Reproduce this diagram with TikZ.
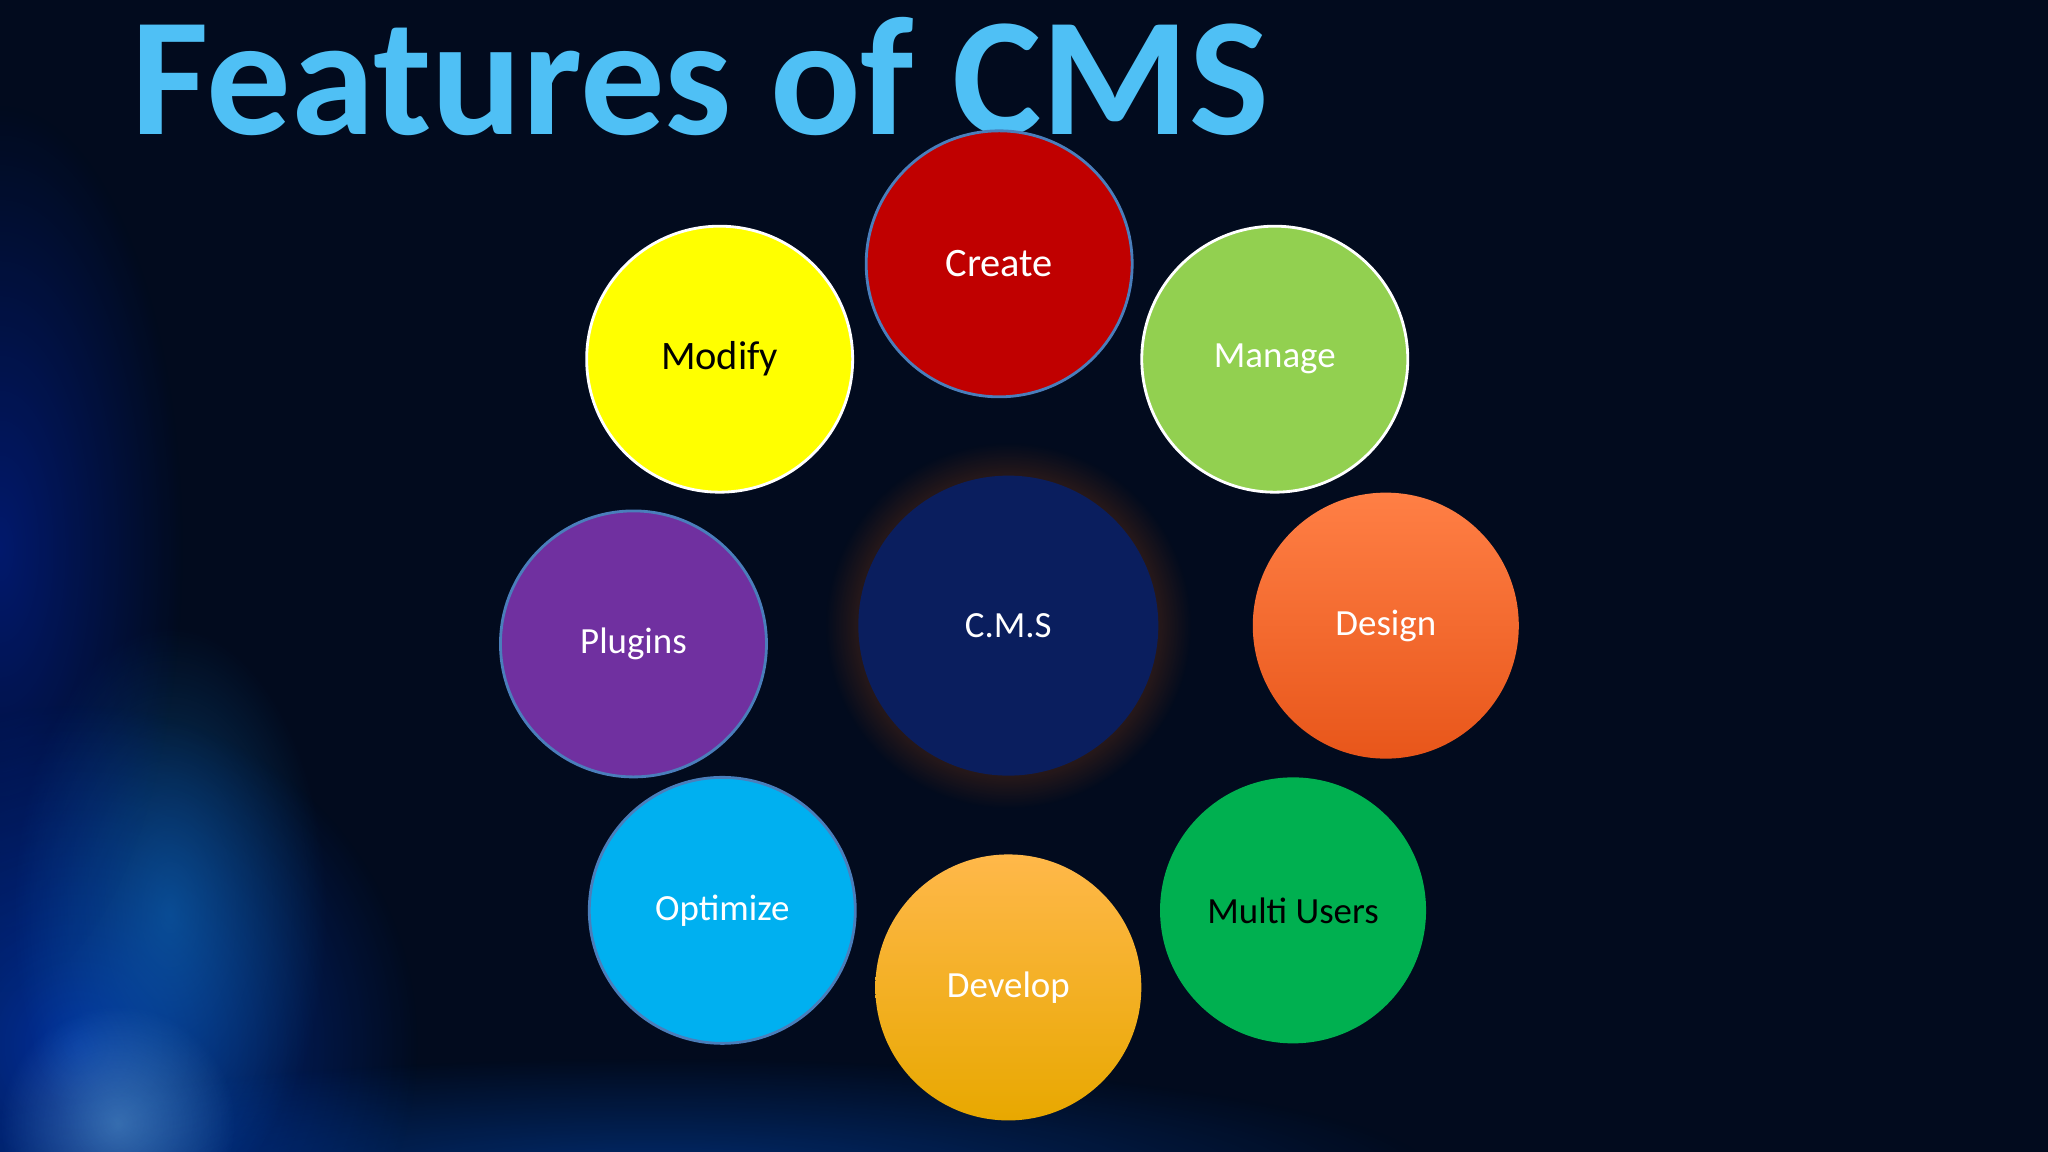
\documentclass[tikz,border=0pt]{standalone}
\usepackage{fontspec}
\setmainfont{Carlito}
\usetikzlibrary{fadings}
\definecolor{bg}{HTML}{020B1E}
\definecolor{titleblue}{HTML}{4FC0F5}
\definecolor{cred}{HTML}{C00000}
\definecolor{cyellow}{HTML}{FFFF00}
\definecolor{cmanage}{HTML}{92D050}
\definecolor{cpurple}{HTML}{7030A0}
\definecolor{cnavy}{HTML}{0A1E5E}
\definecolor{corangeT}{HTML}{FF7F45}
\definecolor{corangeB}{HTML}{E8561A}
\definecolor{ccyan}{HTML}{00B0F0}
\definecolor{cgoldT}{HTML}{FFB84A}
\definecolor{cgoldB}{HTML}{E8A800}
\definecolor{cgreen}{HTML}{00B050}
\definecolor{edgeblue}{HTML}{4A7EBB}
\tikzset{
  feat/.style={circle, minimum size=2.66cm, inner sep=0pt, font=\fontsize{11.5}{12}\selectfont, text=white, line width=0.8pt},
}
\tikzfading[name=fadeout, inner color=transparent!0, outer color=transparent!100]
\begin{document}
\begin{tikzpicture}[x=0.013061cm,y=-0.013061cm]
\useasboundingbox (0,0) rectangle (1568,882);
\fill[bg] (0,0) rectangle (1568,882);
\begin{scope}
\clip (0,0) rectangle (1568,882);
\fill[blue!70!cyan, opacity=0.55, path fading=fadeout] (60,800) ellipse (260 and 260);
\fill[cyan!60!blue, opacity=0.5, path fading=fadeout] (130,700) ellipse (120 and 220);
\fill[blue!80!cyan, opacity=0.35, path fading=fadeout] (0,420) ellipse (140 and 340);
\fill[blue!60!cyan, opacity=0.35, path fading=fadeout] (500,900) ellipse (600 and 90);
\fill[white!60!cyan, opacity=0.35, path fading=fadeout] (90,860) ellipse (90 and 90);
\end{scope}
\node[anchor=base west, text=titleblue, font=\fontsize{48}{50}\selectfont\bfseries, inner sep=0pt] (title) at (100,103) {Features of CMS};
\fill[orange!80!red, opacity=0.8, path fading=fadeout] (772,479) circle (140);
\node[feat, minimum size=3.0cm, fill=cnavy, font=\fontsize{10.5}{12}\selectfont] (cms) at (772,479) {C.M.S};
\node[feat, fill=cred, draw=edgeblue] (create) at (765,202) {Create};
\node[feat, fill=cyellow, draw=white, text=black] (modify) at (551,275) {Modify};
\node[feat, fill=cmanage, draw=white, font=\fontsize{10.5}{12}\selectfont] (manage) at (976,275) {Manage};
\node[feat, fill=cpurple, draw=edgeblue, font=\fontsize{10.5}{12}\selectfont] (plugins) at (485,493) {Plugins};
\node[feat, top color=corangeT, bottom color=corangeB, font=\fontsize{10.5}{12}\selectfont] (design) at (1061,479) {Design};
\node[feat, fill=ccyan, draw=edgeblue, font=\fontsize{10.5}{12}\selectfont] (optimize) at (553,697) {Optimize};
\node[feat, top color=cgoldT, bottom color=cgoldB, font=\fontsize{10.5}{12}\selectfont] (develop) at (772,756) {Develop};
\node[feat, fill=cgreen, text=black, font=\fontsize{10.5}{12}\selectfont] (multi) at (990,697) {Multi Users};
\end{tikzpicture}
\end{document}
